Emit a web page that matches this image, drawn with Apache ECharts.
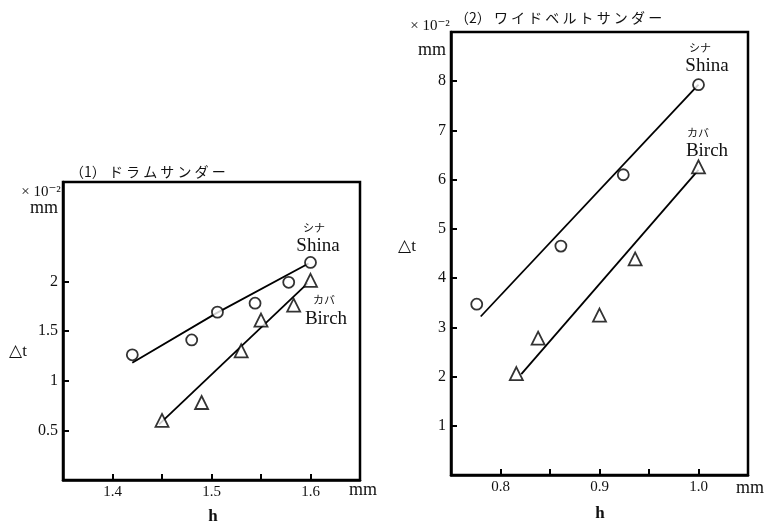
<!DOCTYPE html>
<html>
<head>
<meta charset="utf-8">
<script src="https://cdn.jsdelivr.net/npm/echarts@6/dist/echarts.min.js"></script>
<style>html,body{margin:0;padding:0;background:#fff}#c{width:766px;height:526px}</style>
</head>
<body>
<div id="c"></div>
<script>
// ---- Panel (1) drum sander ----
const shinaL_h = [1.420, 1.480, 1.506, 1.544, 1.578, 1.600];
const shinaL_t = [1.26, 1.41, 1.69, 1.78, 1.99, 2.19];
const birchL_h = [1.450, 1.490, 1.530, 1.550, 1.583, 1.600];
const birchL_t = [0.60, 0.78, 1.30, 1.61, 1.76, 2.01];
const shinaLineL_h = [1.420, 1.505, 1.598];
const shinaLineL_t = [1.18, 1.68, 2.18];
const birchLineL_h = [1.447, 1.597];
const birchLineL_t = [0.56, 1.98];
const xTicksL = [1.4, 1.45, 1.5, 1.55, 1.6];
const xLabelsL = [1.4, 1.5, 1.6];
const yTicksL = [0.5, 1, 1.5, 2];

// ---- Panel (2) wide belt sander ----
const shinaR_h = [0.776, 0.861, 0.924, 1.000];
const shinaR_t = [3.47, 4.65, 6.10, 7.93];
const birchR_h = [0.816, 0.838, 0.900, 0.936, 1.000];
const birchR_t = [2.06, 2.78, 3.25, 4.39, 6.26];
const shinaLineR_h = [0.780, 1.000];
const shinaLineR_t = [3.22, 7.93];
const birchLineR_h = [0.821, 1.000];
const birchLineR_t = [2.05, 6.20];
const xTicksR = [0.8, 0.85, 0.9, 0.95, 1.0];
const xLabelsR = [0.8, 0.9, 1.0];
const yTicksR = [1, 2, 3, 4, 5, 6, 7, 8];

const zip = (a, b) => a.map((v, i) => [v, b[i]]);
const SERIF = '"Liberation Serif", "DejaVu Serif", serif';
const JP = '"Noto Sans CJK JP", sans-serif';

function xAxis(gi, min, max, ticks, labels, fmt) {
  return {
    type: 'value', gridIndex: gi, min: min, max: max,
    axisLine: {show: true, lineStyle: {color: '#000', width: 2.5}},
    axisTick: {show: true, inside: true, length: 6, customValues: ticks, lineStyle: {color: '#000', width: 2}},
    axisLabel: {customValues: labels, color: '#111', fontFamily: SERIF, fontSize: 15, margin: 5, formatter: fmt},
    splitLine: {show: false}
  };
}
function yAxis(gi, min, max, ticks, fmt) {
  return {
    type: 'value', gridIndex: gi, min: min, max: max,
    axisLine: {show: true, lineStyle: {color: '#000', width: 2.5}},
    axisTick: {show: true, inside: true, length: 6, customValues: ticks, lineStyle: {color: '#000', width: 2}},
    axisLabel: {customValues: ticks, color: '#111', fontFamily: SERIF, fontSize: 16, margin: 5, formatter: fmt},
    splitLine: {show: false}
  };
}
function pts(name, xi, data, sym, size) {
  return {
    name: name, type: 'scatter', xAxisIndex: xi, yAxisIndex: xi, data: data,
    symbol: sym, symbolSize: size, z: 5,
    itemStyle: {color: '#fff', borderColor: '#000', borderWidth: 1.8}
  };
}
function line(xi, data) {
  return {
    type: 'line', xAxisIndex: xi, yAxisIndex: xi, data: data, showSymbol: false,
    lineStyle: {color: '#000', width: 1.8}, z: 3, silent: true
  };
}
function txt(x, y, s, size, fam, align, weight) {
  return {type: 'text', x: x, y: y, style: {text: s, fontSize: size, fontFamily: fam, fontWeight: weight || 'normal', fill: '#111', align: align || 'center', verticalAlign: 'middle'}};
}

const chart = echarts.init(document.getElementById('c'));
chart.setOption({
  animation: false,
  backgroundColor: '#fff',
  grid: [
    {left: 63, top: 182, width: 297, height: 298, show: true, borderColor: '#000', borderWidth: 2.5, backgroundColor: 'transparent'},
    {left: 451, top: 32, width: 297, height: 443, show: true, borderColor: '#000', borderWidth: 2.5, backgroundColor: 'transparent'}
  ],
  xAxis: [
    xAxis(0, 1.35, 1.65, xTicksL, xLabelsL, v => v.toFixed(1)),
    xAxis(1, 0.75, 1.05, xTicksR, xLabelsR, v => v.toFixed(1))
  ],
  yAxis: [
    yAxis(0, 0, 3, yTicksL, v => String(Math.round(v * 10) / 10)),
    yAxis(1, 0, 9, yTicksR, v => String(Math.round(v)))
  ],
  series: [
    line(0, zip(shinaLineL_h, shinaLineL_t)),
    line(0, zip(birchLineL_h, birchLineL_t)),
    pts('Shina', 0, zip(shinaL_h, shinaL_t), 'circle', 11),
    pts('Birch', 0, zip(birchL_h, birchL_t), 'triangle', 13),
    line(1, zip(shinaLineR_h, shinaLineR_t)),
    line(1, zip(birchLineR_h, birchLineR_t)),
    pts('Shina', 1, zip(shinaR_h, shinaR_t), 'circle', 11),
    pts('Birch', 1, zip(birchR_h, birchR_t), 'triangle', 13)
  ],
  graphic: [
    // panel 1 texts
    txt(70, 172, '（1） ド ラ ム サ ン ダ ー', 14, JP, 'left'),
    txt(41, 192, '× 10⁻²', 15, SERIF),
    txt(44, 208, 'mm', 18, SERIF),
    txt(18, 352, '△t', 17, SERIF),
    txt(314, 228, 'シナ', 11, JP),
    txt(318, 246, 'Shina', 19, SERIF),
    txt(324, 300, 'カバ', 11, JP),
    txt(326, 319, 'Birch', 19, SERIF),
    txt(363, 490, 'mm', 18, SERIF),
    txt(213, 517, 'h', 17, SERIF, 'center', 'bold'),
    // panel 2 texts
    txt(455, 18, '（2） ワ イ ド ベ ル ト サ ン ダ ー', 14, JP, 'left'),
    txt(430, 26, '× 10⁻²', 15, SERIF),
    txt(432, 50, 'mm', 18, SERIF),
    txt(407, 247, '△t', 17, SERIF),
    txt(700, 48, 'シナ', 11, JP),
    txt(707, 66, 'Shina', 19, SERIF),
    txt(698, 133, 'カバ', 11, JP),
    txt(707, 151, 'Birch', 19, SERIF),
    txt(750, 488, 'mm', 18, SERIF),
    txt(600, 514, 'h', 17, SERIF, 'center', 'bold')
  ]
});
</script>
</body>
</html>
